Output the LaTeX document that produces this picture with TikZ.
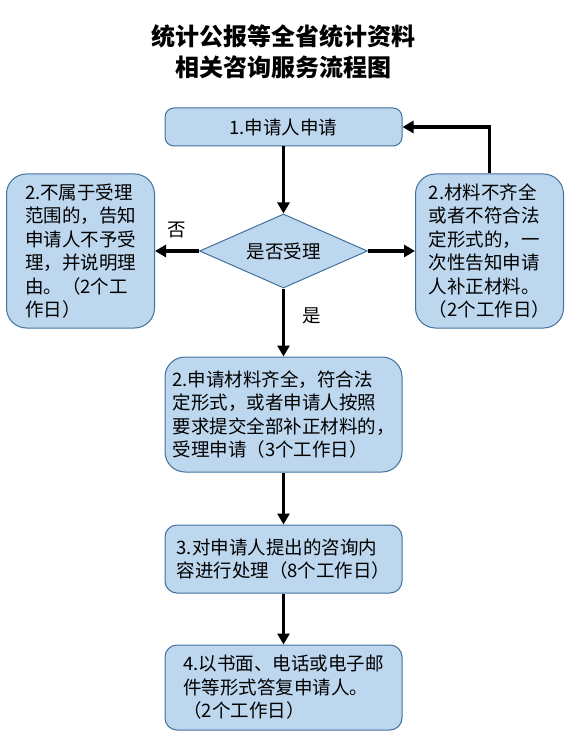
\documentclass[tikz,border=0pt]{standalone}
\usepackage{fontspec}
\setmainfont{Noto Sans CJK SC}
\usepackage{tikz}
\usetikzlibrary{shapes.geometric, arrows.meta, positioning}

\definecolor{boxfill}{RGB}{189,215,238}
\definecolor{boxline}{RGB}{65,113,156}

\begin{document}
\begin{tikzpicture}[
    x=1pt, y=-1pt,
    box/.style={rectangle, rounded corners=9pt, draw=boxline, line width=1pt, fill=boxfill,
                minimum width=237pt, inner sep=0pt, align=left,
                font=\fontsize{18.5}{23.5}\selectfont},
    tallbox/.style={box, rounded corners=20pt, minimum width=148pt, minimum height=154pt},
    decision/.style={diamond, aspect=2.3, draw=boxline, line width=1pt, fill=boxfill, inner sep=0pt,
                minimum width=168pt, minimum height=74pt, font=\fontsize{18.5}{23.5}\selectfont},
    arr/.style={-{Triangle[length=11pt, width=12pt]}, line width=3.8pt},
    lbl/.style={font=\fontsize{18.5}{22}\selectfont}
]
\useasboundingbox (0,0) rectangle (567,751);

% Title
\node[align=center, font=\fontsize{24}{31}\selectfont\bfseries] (title) at (283.5,52)
    {统计公报等全省统计资料\\相关咨询服务流程图};

% Main column
\node[box, minimum height=38pt] (apply) at (283.5,127) {1.申请人申请};
\node[decision, below=67pt of apply] (accept) {是否受理};
\node[box, rounded corners=20pt, minimum height=115pt, below=68pt of accept] (handle)
    {2.申请材料齐全，符合法\\定形式，或者申请人按照\\要求提交全部补正材料的，\\受理申请（3个工作日）};
\node[box, rounded corners=12pt, minimum height=68pt, below=52pt of handle] (process)
    {3.对申请人提出的咨询内\\容进行处理（8个工作日）};
\node[box, rounded corners=12pt, minimum height=85pt, below=51pt of process] (reply)
    {4.以书面、电话或电子邮\\件等形式答复申请人。\\（2个工作日）};

% Side boxes
\node[tallbox, left=44pt of accept] (reject)
    {2.不属于受理\\范围的，告知\\申请人不予受\\理，并说明理\\由。（2个工\\作日）};
\node[tallbox, right=47pt of accept] (supply)
    {2.材料不齐全\\或者不符合法\\定形式的，一\\次性告知申请\\人补正材料。\\（2个工作日）};

% Arrows
\draw[arr] (apply) -- (accept);
\draw[arr] (accept) -- (reject) node[lbl, midway, above=8pt] {否};
\draw[arr] (accept) -- (supply);
\draw[arr] (supply.north) |- (apply.east);
\draw[arr] (accept) -- (handle) node[lbl, pos=0.4, right=14pt] {是};
\draw[arr] (handle) -- (process);
\draw[arr] (process) -- (reply);
\end{tikzpicture}
\end{document}
